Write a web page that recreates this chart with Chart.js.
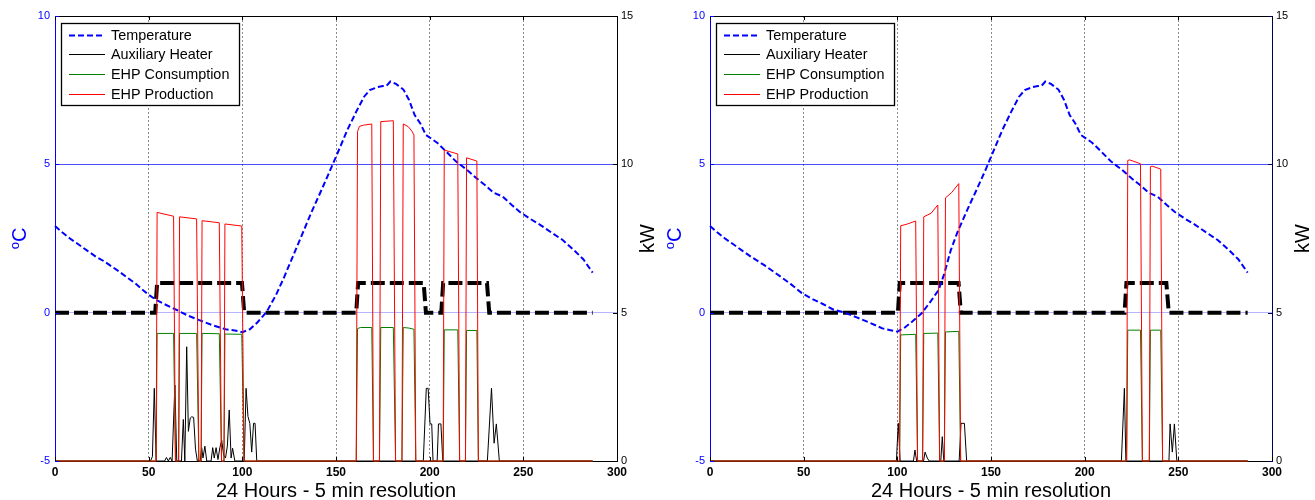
<!DOCTYPE html>
<html>
<head>
<meta charset="utf-8">
<title>EHP - 24 hours</title>
<script src="https://cdn.jsdelivr.net/npm/chart.js@4.4.1/dist/chart.umd.min.js"></script>
<style>
  html, body { margin: 0; padding: 0; background: #fff; }
  #wrap { position: relative; width: 1315px; height: 500px; overflow: hidden; }
  .panel { position: absolute; top: 0; width: 660px; height: 500px; }
  #leftPanel { left: 0; }
  #rightPanel { left: 655px; }
</style>
</head>
<body>
<div id="wrap">
  <div class="panel" id="leftPanel"><canvas id="leftChart" width="660" height="500"></canvas></div>
  <div class="panel" id="rightPanel"><canvas id="rightChart" width="660" height="500"></canvas></div>
</div>
<script>
// ---- data (x = 5 min step index, 0..287) ----
const hourTicks = [0, 50, 100, 150, 200, 250, 300];
const tempTicks = [-5, 0, 5, 10];
const kwTicks = [0, 5, 10, 15];
const seriesLabels = ['Temperature', 'Auxiliary Heater', 'EHP Consumption', 'EHP Production'];
const xTitle = '24 Hours - 5 min resolution';

// Temperature, °C
const tempLeft = [[0,2.92],[4,2.7],[8,2.5],[13,2.28],[17,2.1],[22,1.88],[26,1.74],[29,1.61],[34,1.4],[38,1.21],[43,0.98],[49,0.65],[54,0.43],[58,0.3],[65,0.09],[71,-0.1],[77,-0.25],[84,-0.42],[91,-0.56],[96,-0.6],[100,-0.66],[104,-0.56],[108,-0.33],[113,0.03],[118,0.6],[122,1.15],[127,1.9],[132,2.65],[137,3.4],[142,4.1],[147,4.82],[152,5.55],[156,6.15],[161,6.8],[165,7.28],[168,7.5],[172,7.6],[175,7.64],[177,7.65],[179,7.79],[182,7.71],[186,7.52],[189,7.17],[192,6.66],[195,6.38],[198,5.99],[204,5.73],[209,5.42],[214,5.1],[220,4.81],[225,4.53],[230,4.28],[234,4.05],[239,3.91],[244,3.62],[248,3.4],[254,3.15],[259,2.96],[265,2.7],[271,2.45],[277,2.11],[282,1.8],[287,1.35]];
const tempRight = [[0,2.92],[4,2.7],[8,2.5],[13,2.28],[17,2.1],[22,1.88],[26,1.72],[29,1.6],[34,1.38],[38,1.2],[43,0.97],[49,0.66],[55,0.45],[60,0.3],[66,0.1],[72,0.0],[78,-0.15],[85,-0.33],[92,-0.53],[97,-0.6],[100,-0.64],[104,-0.5],[108,-0.3],[113,-0.02],[118,0.4],[122,0.76],[125,1.3],[128.5,2.1],[132,2.7],[138,3.56],[142,4.1],[147,4.8],[152,5.55],[156,6.15],[161,6.8],[165,7.28],[168,7.5],[172,7.6],[175,7.64],[177,7.65],[179,7.79],[182,7.71],[186,7.52],[189,7.17],[192,6.66],[195,6.38],[198,5.99],[204,5.73],[209,5.42],[214,5.1],[220,4.81],[225,4.53],[230,4.28],[234,4.05],[239,3.91],[244,3.62],[248,3.4],[254,3.15],[259,2.96],[265,2.7],[271,2.45],[277,2.11],[282,1.8],[287,1.35]];

// Heat pump on/off state (plotted on the °C axis, 0/1)
const stateLeft = [[0,0],[53.5,0],[54.5,1],[99.8,1],[101,0],[160.8,0],[161.8,1],[196.8,1],[198,0],[206.2,0],[207.2,1],[230.6,1],[231.8,0],[287,0]];
const stateRight = [[0,0],[100.3,0],[101.3,1],[132.7,1],[133.9,0],[221.3,0],[222.3,1],[243.6,1],[244.9,0],[287,0]];

// Auxiliary heater, kW
const auxLeft = [[0,0],[51,0],[52,0.15],[53,2.45],[54,0],[58.5,0],[59.5,0.12],[60.5,0],[61.5,0.12],[62.5,0],[64,2.56],[65,0],[67.5,0],[68.5,1.4],[69.3,0],[70.3,3.85],[71.2,1.0],[72.2,1.45],[73,1.49],[74,1.47],[75,0.4],[76,0],[77.5,0],[78.3,0.45],[79,0.1],[80,0.5],[81,0],[83.3,0],[84.2,0.45],[85,0.1],[86,0.45],[87,0.05],[88,0.45],[89,0.7],[90,0.2],[91,0.1],[92,0.5],[93,1.72],[94,0.1],[94.8,0.43],[96,0],[101,0],[102,2.45],[103,1.5],[104,1.27],[105,0.3],[106,1.27],[106.8,1.27],[107.7,0],[196.6,0],[198.2,2.45],[199.2,2.45],[200.2,1.25],[201.1,1.25],[201.8,0],[204,0],[204.7,1.25],[206,1.25],[207,0],[230.8,0],[233,2.45],[234.4,0.6],[235.6,1.25],[237.2,0],[287,0]];
const auxRight = [[0,0],[99.5,0],[100.5,1.27],[101.5,0],[108.6,0],[109.4,0.37],[110.3,0],[114,0],[114.8,0.3],[116,0.1],[117,0],[123.2,0],[124,0.82],[124.8,0],[133,0],[134,1.27],[135.8,1.27],[137,0],[219.6,0],[221.2,2.45],[222,0],[245,0],[245.6,1.25],[246.8,0.3],[247.9,1.25],[249.2,0],[287,0]];

// EHP consumption, kW
const consLeft = [[0,0],[54,0],[54.5,4.3],[63.3,4.3],[64.3,0],[66,0],[66.5,4.3],[75.6,4.3],[76.8,0],[78,0],[78.5,4.3],[87.7,4.29],[88.9,0],[90.2,0],[90.7,4.28],[99.7,4.27],[100.9,0],[160.8,0],[161.5,4.46],[163,4.5],[169.1,4.5],[170,0],[173.2,0],[173.9,4.5],[180.6,4.5],[181.8,0],[185.2,0],[185.9,4.5],[189,4.48],[191.6,4.44],[192.6,0],[207.2,0],[207.8,4.42],[215,4.42],[216,0],[219.1,0],[219.7,4.4],[225.2,4.4],[226,0],[287,0]];
const consRight = [[0,0],[101.2,0],[101.8,4.25],[109.8,4.27],[110.8,0],[113.5,0],[114.1,4.3],[121.6,4.31],[122.6,0],[125.1,0],[125.7,4.35],[132.8,4.37],[133.8,0],[222.4,0],[223,4.41],[229.8,4.41],[230.8,0],[234.5,0],[235.1,4.41],[240.6,4.41],[241.6,0],[287,0]];

// EHP production, kW
const prodLeft = [[0,0],[54,0],[54.5,8.38],[63.3,8.25],[64.3,0],[66,0],[66.5,8.23],[75.6,8.16],[76.8,0],[78,0],[78.5,8.1],[87.7,8.03],[88.9,0],[90.2,0],[90.7,7.99],[99.7,7.92],[100.9,0],[160.8,0],[161.5,11.1],[162.5,11.28],[164.6,11.32],[169.1,11.36],[170,0],[173.2,0],[173.9,11.44],[180.6,11.47],[181.8,0],[185.2,0],[185.9,11.36],[188.6,11.27],[190.5,11.12],[191.6,10.99],[192.6,0],[207.2,0],[207.8,10.48],[215,10.35],[216,0],[219.1,0],[219.7,10.22],[225.2,10.11],[226,0],[287,0]];
const prodRight = [[0,0],[101.2,0],[101.8,7.93],[105,7.98],[109.8,8.09],[110.8,0],[113.5,0],[114.1,8.23],[118,8.35],[121.6,8.63],[122.6,0],[125.1,0],[125.7,8.87],[129,9.05],[132.8,9.35],[133.8,0],[222.4,0],[223,10.13],[224,10.15],[229.8,10.02],[230.8,0],[234.5,0],[235.1,9.92],[236,9.94],[240.6,9.84],[241.6,0],[287,0]];

// ---- styles ----
const colors = {
    blue: '#0000ff',
    black: '#000000',
    green: '#008000',
    red: '#ff0000',
    grid: '#8a8a8a'
};
const fontFamily = '"Liberation Sans", Arial, Helvetica, sans-serif';
Chart.defaults.font.family = fontFamily;

// legend box, axis titles, frame and inward tick marks (MATLAB look)
const matlabDecor = {
    id: 'matlabDecor',
    afterDatasetsDraw(chart) {
        const {ctx, chartArea: a} = chart;
        const entries = chart.data.datasets.filter(d => d.inLegend !== false)
            .sort((p, q) => p.legendPos - q.legendPos);
        const x0 = a.left + 6, y0 = a.top + 7, w = 178, h = 82;
        ctx.save();
        ctx.fillStyle = '#fff';
        ctx.fillRect(x0, y0, w, h);
        ctx.strokeStyle = '#000';
        ctx.lineWidth = 1.3;
        ctx.strokeRect(x0 + 0.5, y0 + 0.5, w, h);
        ctx.font = '14.4px ' + fontFamily;
        ctx.textBaseline = 'middle';
        entries.forEach((d, i) => {
            const y = Math.round(y0 + 11.5 + i * 19.7) + 0.5;
            ctx.strokeStyle = d.borderColor;
            ctx.lineWidth = d.borderWidth;
            ctx.setLineDash(d.borderDash || []);
            ctx.beginPath();
            ctx.moveTo(x0 + 8, y);
            ctx.lineTo(x0 + 44, y);
            ctx.stroke();
            ctx.setLineDash([]);
            ctx.fillStyle = '#000';
            ctx.fillText(d.label, x0 + 50, y + 1);
        });
        ctx.restore();
    },
    afterDraw(chart) {
        const {ctx, chartArea: a, scales} = chart;
        const kwColor = chart.options.kwAxisColor;
        ctx.save();
        // top border
        ctx.strokeStyle = '#000';
        ctx.lineWidth = 1;
        ctx.beginPath();
        ctx.moveTo(a.left, Math.round(a.top) + 0.5);
        ctx.lineTo(a.right, Math.round(a.top) + 0.5);
        ctx.stroke();
        // inward ticks on x
        ctx.beginPath();
        hourTicks.forEach(v => {
            const x = Math.round(scales.x.getPixelForValue(v)) + 0.5;
            ctx.moveTo(x, a.bottom); ctx.lineTo(x, a.bottom - 4);
            ctx.moveTo(x, a.top); ctx.lineTo(x, a.top + 4);
        });
        ctx.stroke();
        // left axis ticks
        ctx.strokeStyle = colors.blue;
        ctx.beginPath();
        tempTicks.forEach(v => {
            const y = Math.round(scales.y.getPixelForValue(v)) + 0.5;
            ctx.moveTo(a.left, y); ctx.lineTo(a.left + 4, y);
        });
        ctx.stroke();
        // right axis ticks
        ctx.strokeStyle = kwColor;
        ctx.beginPath();
        kwTicks.forEach(v => {
            const y = Math.round(scales.y1.getPixelForValue(v)) + 0.5;
            ctx.moveTo(a.right, y); ctx.lineTo(a.right - 4, y);
        });
        ctx.stroke();

        // axis titles
        const midY = (a.top + a.bottom) / 2;
        ctx.textBaseline = 'alphabetic';
        // °C  (superscript o + C), rotated
        ctx.save();
        ctx.translate(a.left - 29, midY);
        ctx.rotate(-Math.PI / 2);
        ctx.fillStyle = colors.blue;
        ctx.font = '20px ' + fontFamily;
        const cW = ctx.measureText('C').width;
        ctx.font = '13px ' + fontFamily;
        const oW = ctx.measureText('o').width;
        const startX = -(cW + oW) / 2;
        ctx.fillText('o', startX, -7);
        ctx.font = '20px ' + fontFamily;
        ctx.fillText('C', startX + oW, 0);
        ctx.restore();
        // kW, rotated
        ctx.save();
        ctx.translate(a.right + 37, midY);
        ctx.rotate(-Math.PI / 2);
        ctx.fillStyle = '#000';
        ctx.font = '20px ' + fontFamily;
        ctx.textAlign = 'center';
        ctx.fillText('kW', 0, 0);
        ctx.restore();
        // x title
        ctx.fillStyle = '#000';
        ctx.font = '20px ' + fontFamily;
        ctx.textAlign = 'center';
        ctx.fillText(xTitle, (a.left + a.right) / 2, a.bottom + 36);
        ctx.restore();
    }
};

function setTicks(values) {
    return scale => { scale.ticks = values.map(v => ({value: v})); };
}

function buildChart(canvasId, temp, state, aux, cons, prod, kwAxisColor) {
    const line = {pointRadius: 0, tension: 0, fill: false, clip: 4, borderCapStyle: 'butt', borderJoinStyle: 'miter'};
    return new Chart(document.getElementById(canvasId), {
        type: 'line',
        data: {
            datasets: [
                Object.assign({label: seriesLabels[3], data: prod, yAxisID: 'y1', borderColor: colors.red, borderWidth: 1, order: 1, legendPos: 3}, line),
                Object.assign({label: seriesLabels[2], data: cons, yAxisID: 'y1', borderColor: colors.green, borderWidth: 1, order: 2, legendPos: 2}, line),
                Object.assign({label: seriesLabels[1], data: aux, yAxisID: 'y1', borderColor: colors.black, borderWidth: 1, order: 3, legendPos: 1}, line),
                Object.assign({label: seriesLabels[0], data: temp, yAxisID: 'y', borderColor: colors.blue, borderWidth: 2, borderDash: [6, 3], order: 4, legendPos: 0}, line),
                Object.assign({label: 'On/Off', data: state, yAxisID: 'y', borderColor: colors.black, borderWidth: 4, borderDash: [14, 5], order: 5, inLegend: false}, line)
            ]
        },
        options: {
            responsive: false,
            animation: false,
            kwAxisColor: kwAxisColor,
            layout: {padding: {top: 16, left: 0, right: 0, bottom: 0}},
            plugins: {legend: {display: false}, tooltip: {enabled: false}},
            scales: {
                x: {
                    type: 'linear',
                    min: 0,
                    max: 300,
                    afterBuildTicks: setTicks(hourTicks),
                    afterFit: s => { s.height = 39; },
                    ticks: {color: '#000', font: {size: 12, weight: 'bold'}, padding: 4, maxRotation: 0},
                    grid: {
                        drawTicks: false,
                        lineWidth: 1,
                        color: c => (c.tick && (c.tick.value === 0 || c.tick.value === 300)) ? 'rgba(0,0,0,0)' : colors.grid
                    },
                    border: {color: '#000', width: 1, dash: [2, 2]}
                },
                y: {
                    position: 'left',
                    min: -5,
                    max: 10,
                    afterBuildTicks: setTicks(tempTicks),
                    afterFit: s => { s.width = 55; },
                    ticks: {color: colors.blue, font: {size: 11}, padding: 5},
                    grid: {
                        drawTicks: false,
                        lineWidth: 1,
                        color: c => {
                            if (!c.tick) return 'rgba(0,0,0,0)';
                            if (c.tick.value === 5) return 'rgba(0,0,255,0.7)';
                            if (c.tick.value === 0) return 'rgba(90,90,255,0.45)';
                            return 'rgba(0,0,0,0)';
                        }
                    },
                    border: {color: colors.blue, width: 1}
                },
                y1: {
                    position: 'right',
                    min: 0,
                    max: 15,
                    afterBuildTicks: setTicks(kwTicks),
                    afterFit: s => { s.width = 43; },
                    ticks: {color: '#000', font: {size: 11}, padding: 4},
                    grid: {display: false, drawTicks: false},
                    border: {color: kwAxisColor, width: 1}
                }
            }
        },
        plugins: [matlabDecor]
    });
}

buildChart('leftChart', tempLeft, stateLeft, auxLeft, consLeft, prodLeft, '#000000');
buildChart('rightChart', tempRight, stateRight, auxRight, consRight, prodRight, '#000060');
</script>
</body>
</html>
